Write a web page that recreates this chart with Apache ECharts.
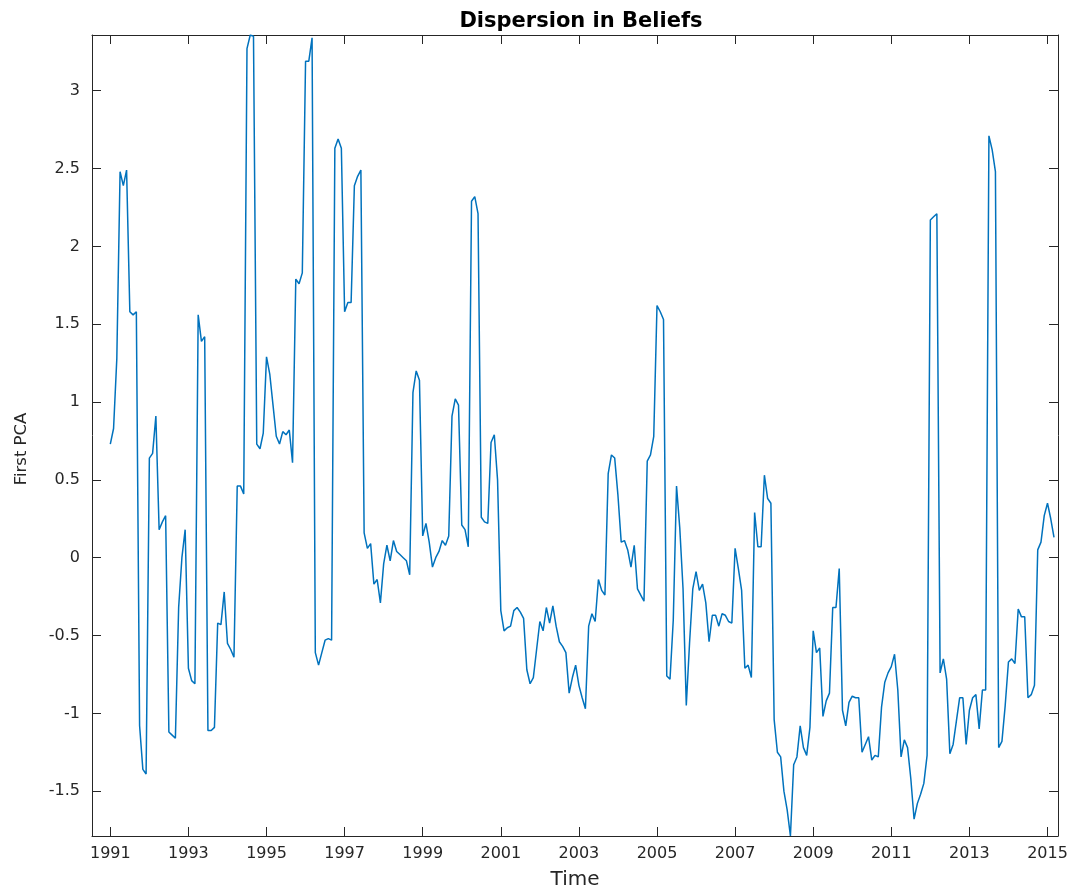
<!DOCTYPE html>
<html>
<head>
<meta charset="utf-8">
<title>Dispersion in Beliefs</title>
<script src="https://cdn.jsdelivr.net/npm/echarts@6/dist/echarts.min.js"></script>
<style>
  html, body { margin: 0; padding: 0; background: #ffffff; }
  #chart { width: 1075px; height: 895px; }
</style>
</head>
<body>
<div id="chart"></div>
<script>
// Monthly first principal component of belief dispersion, Jan 1991 – Mar 2015
const startYear = 1991;
const pca1991 = [0.73, 0.83, 1.28, 2.48, 2.39, 2.49, 1.58, 1.56, 1.58, -1.08, -1.36, -1.39];
const pca1992 = [0.64, 0.67, 0.91, 0.18, 0.23, 0.27, -1.12, -1.14, -1.16, -0.32, 0.0, 0.18];
const pca1993 = [-0.71, -0.79, -0.81, 1.56, 1.39, 1.42, -1.11, -1.11, -1.09, -0.42, -0.43, -0.22];
const pca1994 = [-0.55, -0.59, -0.64, 0.46, 0.46, 0.41, 3.27, 3.358, 3.35, 0.73, 0.70, 0.80];
const pca1995 = [1.29, 1.18, 0.98, 0.78, 0.73, 0.81, 0.79, 0.82, 0.61, 1.79, 1.76, 1.83];
const pca1996 = [3.19, 3.19, 3.34, -0.61, -0.69, -0.61, -0.53, -0.52, -0.53, 2.63, 2.69, 2.63];
const pca1997 = [1.58, 1.64, 1.64, 2.39, 2.45, 2.49, 0.16, 0.06, 0.09, -0.17, -0.14, -0.29];
const pca1998 = [-0.04, 0.08, -0.02, 0.11, 0.04, 0.02, 0.0, -0.02, -0.11, 1.06, 1.2, 1.14];
const pca1999 = [0.14, 0.22, 0.1, -0.06, 0.0, 0.04, 0.11, 0.08, 0.14, 0.91, 1.02, 0.98];
const pca2000 = [0.21, 0.18, 0.07, 2.29, 2.32, 2.21, 0.26, 0.23, 0.22, 0.74, 0.79, 0.5];
const pca2001 = [-0.34, -0.47, -0.45, -0.44, -0.34, -0.32, -0.35, -0.39, -0.72, -0.81, -0.77, -0.59];
const pca2002 = [-0.41, -0.47, -0.32, -0.42, -0.31, -0.44, -0.54, -0.57, -0.61, -0.87, -0.77, -0.69];
const pca2003 = [-0.82, -0.9, -0.97, -0.44, -0.36, -0.41, -0.14, -0.21, -0.24, 0.54, 0.66, 0.64];
const pca2004 = [0.4, 0.1, 0.11, 0.05, -0.06, 0.08, -0.2, -0.24, -0.28, 0.62, 0.66, 0.78];
const pca2005 = [1.62, 1.58, 1.53, -0.76, -0.78, -0.4, 0.46, 0.19, -0.2, -0.95, -0.55, -0.2];
const pca2006 = [-0.09, -0.21, -0.17, -0.29, -0.54, -0.37, -0.37, -0.44, -0.36, -0.37, -0.41, -0.42];
const pca2007 = [0.06, -0.07, -0.21, -0.71, -0.69, -0.77, 0.29, 0.07, 0.07, 0.53, 0.38, 0.35];
const pca2008 = [-1.04, -1.25, -1.28, -1.5, -1.62, -1.788, -1.33, -1.28, -1.08, -1.22, -1.27, -1.09];
const pca2009 = [-0.47, -0.61, -0.58, -1.02, -0.92, -0.87, -0.32, -0.32, -0.07, -0.98, -1.08, -0.93];
const pca2010 = [-0.89, -0.9, -0.9, -1.25, -1.2, -1.15, -1.3, -1.27, -1.28, -0.96, -0.8, -0.74];
const pca2011 = [-0.7, -0.62, -0.85, -1.28, -1.17, -1.22, -1.42, -1.68, -1.58, -1.52, -1.45, -1.27];
const pca2012 = [2.17, 2.19, 2.21, -0.74, -0.65, -0.78, -1.26, -1.2, -1.05, -0.9, -0.9, -1.2];
const pca2013 = [-0.98, -0.9, -0.88, -1.1, -0.85, -0.85, 2.71, 2.62, 2.48, -1.22, -1.18, -0.95];
const pca2014 = [-0.67, -0.65, -0.68, -0.33, -0.38, -0.38, -0.9, -0.88, -0.82, 0.05, 0.1, 0.27];
const pca2015 = [0.35, 0.25, 0.13];

const yearTicks = [1991, 1993, 1995, 1997, 1999, 2001, 2003, 2005, 2007, 2009, 2011, 2013, 2015];
const valueTicks = [-1.5, -1, -0.5, 0, 0.5, 1, 1.5, 2, 2.5, 3];

const allYears = [pca1991, pca1992, pca1993, pca1994, pca1995, pca1996, pca1997, pca1998,
  pca1999, pca2000, pca2001, pca2002, pca2003, pca2004, pca2005, pca2006, pca2007, pca2008,
  pca2009, pca2010, pca2011, pca2012, pca2013, pca2014, pca2015];

// [decimal year, value] pairs, one per month
const series = [];
allYears.forEach((months, yi) => {
  months.forEach((v, mi) => series.push([startYear + yi + mi / 12, v]));
});

const axisColor = '#262626';
const fontFamily = '"DejaVu Sans", "Liberation Sans", sans-serif';
const xMin = 1990.531, xMax = 2015.269;
const yMin = -1.788, yMax = 3.358;

const baseX = {
  type: 'value', min: xMin, max: xMax,
  axisLine: { show: true, onZero: false, lineStyle: { color: axisColor, width: 1 } },
  axisTick: { show: true, inside: true, length: 9, customValues: yearTicks, lineStyle: { color: axisColor, width: 1 } },
  splitLine: { show: false }
};
const baseY = {
  type: 'value', min: yMin, max: yMax,
  axisLine: { show: true, onZero: false, lineStyle: { color: axisColor, width: 1 } },
  axisTick: { show: true, inside: true, length: 9, customValues: valueTicks, lineStyle: { color: axisColor, width: 1 } },
  splitLine: { show: false }
};

const chart = echarts.init(document.getElementById('chart'), null, { renderer: 'canvas' });
chart.setOption({
  backgroundColor: '#ffffff',
  animation: false,
  title: {
    text: 'Dispersion in Beliefs',
    left: 576, top: 6, textAlign: 'center',
    textStyle: { fontFamily, fontWeight: 'bold', fontSize: 21, color: '#000000' }
  },
  grid: { left: 92, right: 17, top: 35, bottom: 55, containLabel: false },
  graphic: [{
    type: 'text',
    x: 22, y: 449,
    rotation: Math.PI / 2,
    style: {
      text: 'First PCA',
      fontFamily, fontSize: 16.5,
      fill: axisColor,
      align: 'center', verticalAlign: 'middle'
    }
  }],
  xAxis: [
    Object.assign({}, baseX, {
      position: 'bottom',
      name: 'Time', nameLocation: 'middle', nameGap: 34,
      nameTextStyle: { fontFamily, fontSize: 20, color: axisColor },
      axisLabel: { show: true, customValues: yearTicks, margin: 10, color: axisColor,
        fontFamily, fontSize: 16, formatter: v => String(v) }
    }),
    Object.assign({}, baseX, { position: 'top', axisLabel: { show: false } })
  ],
  yAxis: [
    Object.assign({}, baseY, {
      position: 'left',
      axisLabel: { show: true, customValues: valueTicks, margin: 12, color: axisColor,
        fontFamily, fontSize: 16, formatter: v => String(v) }
    }),
    Object.assign({}, baseY, { position: 'right', axisLabel: { show: false } })
  ],
  series: [{
    type: 'line',
    xAxisIndex: 0, yAxisIndex: 0,
    data: series,
    showSymbol: false,
    clip: true,
    lineStyle: { color: '#0072BD', width: 1.5 },
    emphasis: { disabled: true }
  }]
});
</script>
</body>
</html>
